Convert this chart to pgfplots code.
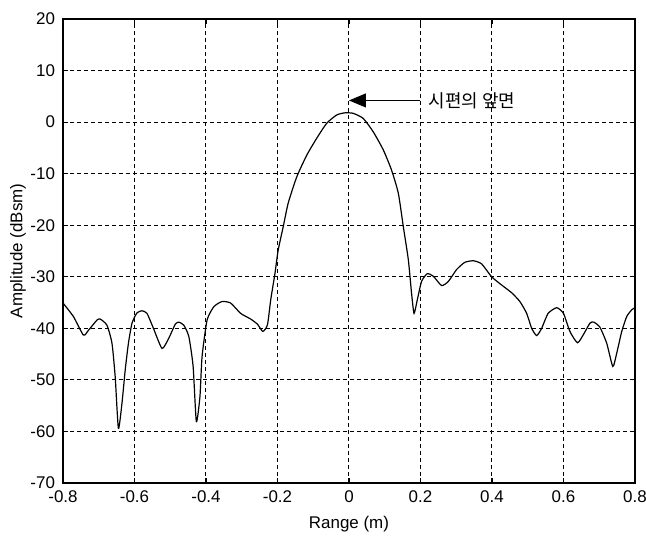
\documentclass[border=0pt]{standalone}
\usepackage{fontspec}
\setmainfont{Liberation Sans}
\newfontfamily\kr{Noto Sans CJK KR}
\usepackage{pgfplots}
\pgfplotsset{compat=1.18}
\usetikzlibrary{arrows.meta}

\begin{document}
\begin{tikzpicture}
\begin{axis}[
scale only axis,width=286bp,height=232bp,
xmin=-0.8,xmax=0.8,ymin=-70,ymax=20,
xtick={-0.8,-0.6,-0.4,-0.2,0,0.2,0.4,0.6,0.8},
xticklabels={-0.8,-0.6,-0.4,-0.2,0,0.2,0.4,0.6,0.8},
ytick={-70,-60,-50,-40,-30,-20,-10,0,10,20},
yticklabels={-70,-60,-50,-40,-30,-20,-10,0,10,20},
grid=major,
major grid style={black,line width=0.5bp,dash pattern=on 2bp off 1.5bp},
axis line style={black,line width=0.8bp},
tick style={black,line width=0.6bp},major tick length=2.5bp,
tick label style={font=\fontsize{8.5}{10}\selectfont},
xticklabel style={yshift=-0.5bp},
yticklabel style={xshift=-0.5bp},
label style={font=\fontsize{8.5}{10}\selectfont},
xlabel={Range (m)},ylabel={Amplitude (dBsm)},
xlabel style={at={(axis description cs:0.5,-0.088)},anchor=center},
ylabel style={at={(axis description cs:-0.0787,0.5)},anchor=center},
]
\addplot[black,line width=0.6bp,smooth,tension=0.35] coordinates {
(-0.800,-35.1)(-0.771,-37.7)(-0.743,-41.3)(-0.729,-40.4)(-0.705,-38.4)
(-0.696,-38.2)(-0.677,-39.4)(-0.663,-42.9)(-0.654,-49.4)(-0.645,-59.4)
(-0.635,-54.5)(-0.626,-48.1)(-0.617,-42.9)(-0.607,-39.0)(-0.593,-37.0)
(-0.579,-36.6)(-0.565,-37.1)(-0.547,-40.0)(-0.523,-43.9)(-0.504,-41.9)
(-0.486,-39.2)(-0.476,-38.8)(-0.462,-39.4)(-0.448,-41.6)(-0.436,-47.4)
(-0.427,-58.1)(-0.417,-53.3)(-0.411,-45.5)(-0.397,-38.4)(-0.378,-35.8)
(-0.355,-34.8)(-0.331,-35.1)(-0.303,-37.1)(-0.275,-38.2)(-0.256,-39.2)
(-0.241,-40.6)(-0.228,-39.3)(-0.219,-34.5)(-0.207,-29.3)(-0.198,-24.8)
(-0.184,-20.3)(-0.170,-15.7)(-0.146,-10.6)(-0.118,-6.4)(-0.090,-3.1)
(-0.062,-0.2)(-0.034,1.4)(-0.011,1.8)(0.012,1.7)(0.040,0.7)
(0.068,-1.9)(0.096,-5.4)(0.119,-9.3)(0.138,-13.8)(0.152,-20.3)
(0.166,-26.7)(0.175,-33.2)(0.182,-37.1)(0.191,-34.5)(0.203,-30.9)
(0.219,-29.4)(0.236,-29.9)(0.259,-31.7)(0.278,-30.9)(0.301,-28.6)
(0.324,-27.2)(0.348,-26.9)(0.371,-27.5)(0.399,-30.0)(0.427,-31.6)
(0.455,-33.1)(0.478,-34.8)(0.497,-37.1)(0.511,-40.0)(0.525,-41.4)
(0.539,-40.0)(0.557,-37.1)(0.581,-36.0)(0.600,-37.1)(0.618,-40.6)
(0.639,-42.8)(0.655,-41.3)(0.674,-39.0)(0.685,-38.8)(0.702,-39.8)
(0.721,-42.9)(0.738,-47.4)(0.749,-44.8)(0.763,-40.6)(0.777,-37.7)
(0.791,-36.4)(0.800,-36.0)
};
% annotation: front face of the specimen
\draw[black,line width=0.5bp,{Triangle[length=8.5bp,width=7bp]}-] (axis cs:0,4.2) -- (axis cs:0.199,4.2);
\node[anchor=west,inner sep=0pt,font=\kr\fontsize{9}{10}\selectfont] at (axis cs:0.222,4.2) {시편의 앞면};
\end{axis}
\pgfresetboundingbox
\path[use as bounding box] (current axis.south west) ++(-31.5bp,-27bp) rectangle ++(323bp,268.5bp);
\end{tikzpicture}
\end{document}
